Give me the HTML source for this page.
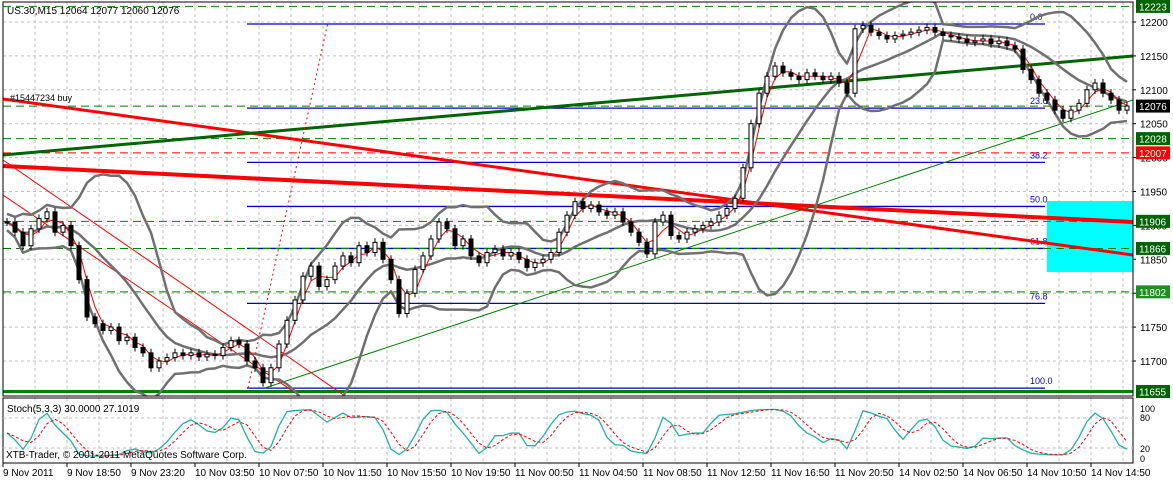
<!DOCTYPE html>
<html><head><meta charset="utf-8">
<style>
html,body{margin:0;padding:0;background:#fff;}
svg{display:block;font-family:"Liberation Sans",sans-serif;}
</style></head>
<body>
<svg id="chart" width="1173" height="481" viewBox="0 0 1173 481" xmlns="http://www.w3.org/2000/svg">
<defs>
<clipPath id="mainclip"><rect x="3" y="2" width="1130" height="394"/></clipPath>
<clipPath id="stclip"><rect x="3" y="398" width="1130" height="65"/></clipPath>
</defs>
</svg>
<script>
// ---- data ----
const closes = [11905,11890,11870,11895,11910,11920,11890,11900,11870,11820,
11765,11755,11745,11750,11730,11735,11720,11712,11690,11700,
11705,11712,11708,11712,11706,11710,11708,11720,11730,11725,
11700,11690,11668,11690,11725,11760,11790,11825,11840,11810,
11820,11840,11855,11845,11870,11860,11875,11850,11820,11770,
11800,11835,11855,11880,11905,11895,11870,11880,11855,11845,
11860,11865,11855,11860,11850,11838,11845,11850,11860,11890,
11915,11935,11925,11930,11920,11915,11920,11905,11890,11875,
11858,11905,11915,11885,11880,11890,11895,11900,11905,11915,
11925,11940,11985,12050,12095,12120,12135,12125,12120,12115,
12125,12120,12115,12120,12110,12095,12190,12195,12185,12180,
12175,12180,12182,12185,12188,12192,12185,12180,12178,12175,
12170,12172,12175,12168,12172,12165,12160,12130,12115,12095,
12085,12070,12058,12070,12080,12100,12110,12095,12085,12070,12076];
const priceTicks = [12200,12150,12100,12050,12000,11950,11900,11850,11800,11750,11700];
const timeLabels = ["9 Nov 2011","9 Nov 18:50","9 Nov 23:20","10 Nov 03:50","10 Nov 07:50","10 Nov 11:50","10 Nov 15:50","10 Nov 19:50","11 Nov 00:50","11 Nov 04:50","11 Nov 08:50","11 Nov 12:50","11 Nov 16:50","11 Nov 20:50","14 Nov 02:50","14 Nov 06:50","14 Nov 10:50","14 Nov 14:50"];
const levelPrices = [12223,12076,12028,12007,11906,11866,11802,11655];
const levelColors = ["#006400","#000000","#006400","#ff0000","#006400","#006400","#1f8f1f","#006400"];
const fibLevels = ["0.0","23.6","38.2","50.0","61.8","76.8","100.0"];
const fibPrices = [12197,12073,11993,11928,11866,11785,11660];

// ---- axes ----
const L=3,R=1133,T=2,B=396;
const y = p => 22 + (12200 - p) * 0.678;
const x = i => 7 + i * 8;
const sy = v => 458 - v * 0.5;
const svg = document.getElementById('chart');
const NS='http://www.w3.org/2000/svg';
function mk(tag, attrs, parent){const e=document.createElementNS(NS,tag);for(const k in attrs)e.setAttribute(k,attrs[k]);(parent||svg).appendChild(e);return e;}

// grid
const grid = mk('g',{});


for(let gx=35;gx<R;gx+=32){mk('line',{x1:gx,y1:T,x2:gx,y2:B,stroke:'#c0c0c0','stroke-dasharray':'3,3'},grid);mk('line',{x1:gx,y1:398,x2:gx,y2:463,stroke:'#c0c0c0','stroke-dasharray':'3,3'},grid);}
priceTicks.forEach(p=>mk('line',{x1:L,y1:y(p),x2:R,y2:y(p),stroke:'#c0c0c0','stroke-dasharray':'3,3'},grid));

// cyan box
const box = mk('rect',{x:1047,y:201,width:86,height:71,fill:'#00ffff'});



// fibonacci
fibPrices.forEach((p,k)=>{
  const ln = mk('line',{x1:247,y1:y(p),x2:1045,y2:y(p),stroke:'#0000cc','stroke-width':1.3});
  
  
  const t = mk('text',{x:1030,y:y(p)-4,fill:'#0000ff','font-size':9});
  t.textContent=fibLevels[k];
  
  
});

// horizontal levels
levelPrices.forEach((p,k)=>{
  const c = levelColors[k]==='#ff0000'?'#ff0000':'#008000';
  const ln = mk('line',{x1:L,y1:y(p),x2:R,y2:y(p),stroke:c,'stroke-dasharray':p===11655?'':'8,5','stroke-width':p===11655?3:1});
  
  
});

// trend lines
const tg=mk('g',{'clip-path':'url(#mainclip)'});
const trends=[[3,99,1133,255,'#ff0000',3],[3,166,1133,222,'#ff0000',4],[3,155,1133,56,'#006400',3],[265,388,1133,100,'#008000',1],[3,160,345,396,'#ff0000',1],[3,195,300,396,'#ff0000',1]];
trends.forEach(t=>{
  const ln=mk('line',{x1:t[0],y1:t[1],x2:t[2],y2:t[3],stroke:t[4],'stroke-width':t[5]},tg);
  
  
});
const dotl=mk('line',{x1:248,y1:388,x2:328,y2:22,stroke:'#ff0000','stroke-dasharray':'2,3'});



// indicators
function sma(arr,n,i){let s=0,c=0;for(let j=Math.max(0,i-n+1);j<=i;j++){s+=arr[j];c++;}return s/c;}
function sd(arr,n,i){const m=sma(arr,n,i);let s=0,c=0;for(let j=Math.max(0,i-n+1);j<=i;j++){s+=(arr[j]-m)**2;c++;}return Math.sqrt(s/c);}
let up='',lo='',mid='',ma='';
closes.forEach((c,i)=>{
  const m=sma(closes,12,i),d=Math.max(sd(closes,12,i),6);
  up+=(i?'L':'M')+x(i)+','+y(m+2*d);
  lo+=(i?'L':'M')+x(i)+','+y(m-2*d);
  mid+=(i?'L':'M')+x(i)+','+y(m);
  ma+=(i?'L':'M')+x(i)+','+y(sma(closes,3,i));
});
const ig=mk('g',{'clip-path':'url(#mainclip)'});
[[up,'bb-upper'],[lo,'bb-lower'],[mid,'bb-middle']].forEach(a=>{
  const p=mk('path',{d:a[0],fill:'none',stroke:'#707070','stroke-width':2.5,'stroke-linejoin':'round'},ig);
  
  
});
const map=mk('path',{d:ma,fill:'none',stroke:'#ff0000','stroke-width':1},ig);



// candles
const highs=[],lows=[];
closes.forEach((c,i)=>{
  const o=i?closes[i-1]:c;
  const h=Math.max(o,c)+6,l=Math.min(o,c)-6;highs.push(h);lows.push(l);
  const g=mk('g',{});
  
  
  mk('line',{x1:x(i),y1:y(h),x2:x(i),y2:y(l),stroke:'#000'},g);
  const top=y(Math.max(o,c)),hgt=Math.max(1,Math.abs(y(o)-y(c)));
  mk('rect',{x:x(i)-2,y:top,width:4,height:hgt,fill:c>=o?'#fff':'#000',stroke:'#000','stroke-width':1},g);
});

// frames
const f1=mk('rect',{x:L,y:T,width:R-L,height:B-T,fill:'none',stroke:'#000'});


const f2=mk('rect',{x:L,y:398,width:R-L,height:65,fill:'none',stroke:'#000'});



// stochastic
const kraw=closes.map((c,i)=>{let h=-1e9,l=1e9;for(let j=Math.max(0,i-4);j<=i;j++){h=Math.max(h,highs[j]);l=Math.min(l,lows[j]);}return h===l?50:(c-l)/(h-l)*100;});
const kk=kraw.map((v,i)=>sma(kraw,2,i));
const dd=kk.map((v,i)=>sma(kk,3,i));
let kp='',dp='';
kk.forEach((v,i)=>{kp+=(i?'L':'M')+x(i)+','+sy(v);dp+=(i?'L':'M')+x(i)+','+sy(dd[i]);});
const sg=mk('g',{'clip-path':'url(#stclip)'});
[80,20].forEach(v=>mk('line',{x1:L,y1:sy(v),x2:R,y2:sy(v),stroke:'#c0c0c0','stroke-dasharray':'3,3'},sg));
const kl=mk('path',{d:kp,fill:'none',stroke:'#20b2aa','stroke-width':1.3},sg);


const dl=mk('path',{d:dp,fill:'none',stroke:'#ff0000','stroke-dasharray':'3,2'},sg);



// price axis labels
priceTicks.forEach(p=>{
  const t=mk('text',{x:1140,y:y(p)+4,'font-size':10,fill:'#000'});
  t.textContent=p;
  
  
  mk('line',{x1:R,y1:y(p),x2:R+3,y2:y(p),stroke:'#000'});
});
levelPrices.forEach((p,k)=>{
  const g=mk('g',{});
  
  
  mk('rect',{x:1136,y:y(p)-6.5,width:34,height:13,fill:levelColors[k]},g);
  const t=mk('text',{x:1139,y:y(p)+4,'font-size':10,fill:'#fff'},g);t.textContent=p;
});
[['100',409],['80',418],['20',449],['0',459]].forEach(a=>{
  const t=mk('text',{x:1140,y:a[1]+3,'font-size':9,fill:'#000'});t.textContent=a[0];
  
  
});

// time labels
timeLabels.forEach((s,k)=>{
  const tx=3+64*k;
  const t=mk('text',{x:tx,y:476,'font-size':10,fill:'#000'});t.textContent=s;
  
  
  mk('line',{x1:tx,y1:463,x2:tx,y2:467,stroke:'#000'});
});

// titles
const tt=mk('text',{x:7,y:14,'font-size':10,fill:'#000'});tt.textContent='US.30,M15  12064 12077 12060 12076';


const ob=mk('text',{x:10,y:101,'font-size':9,fill:'#000'});ob.textContent='#15447234 buy';


const st=mk('text',{x:7,y:412,'font-size':10,fill:'#000'});st.textContent='Stoch(5,3,3) 30.0000 27.1019';


const cp=mk('text',{x:6,y:458,'font-size':10,fill:'#000'});cp.textContent='XTB-Trader, © 2001-2011 MetaQuotes Software Corp.';


</script>
</body></html>
